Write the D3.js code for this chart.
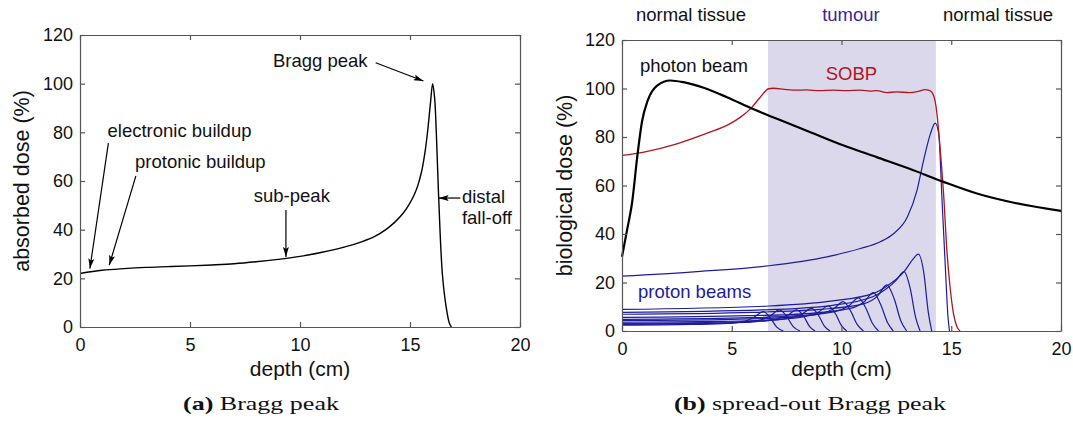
<!DOCTYPE html>
<html>
<head>
<meta charset="utf-8">
<script src="https://cdn.jsdelivr.net/npm/d3@7"></script>
<style>
  body { margin: 0; background: #fff; }
  svg text { font-family: "Liberation Sans", Arial, Helvetica, sans-serif; }
</style>
</head>
<body>
<div id="chart"></div>
<script>
// ---- data (depth in cm, dose in %) ----
const xTicks = [0, 5, 10, 15, 20];
const yTicks = [0, 20, 40, 60, 80, 100, 120];

// (a) single proton Bragg curve
const braggCurve = [[0,22],[1,23.3],[2,24],[3,24.5],[4,24.8],[5,25.1],[6,25.5],[7,26],[8,26.8],[9,27.8],
  [10,29],[11,30.7],[12,32.8],[12.8,35],[13.4,37.2],[13.9,40],[14.3,43],[14.6,45.8],[14.9,49.5],[15.15,53.5],
  [15.35,58],[15.53,64],[15.7,73],[15.82,82],[15.93,92],[16.03,100],[16.12,94],[16.2,79],[16.3,54],
  [16.47,22],[16.64,8.4],[16.79,1.5],[16.88,0]];

// (b) photon beam depth dose
const photonBeam = [[0,30.6],[0.23,41.6],[0.46,53],[0.71,73],[0.91,86.3],[1.17,95],[1.6,101.2],
  [2.2,103.3],[2.8,102.6],[3.72,100.3],[4.78,96.4],[6.0,91.4],[7.06,87.5],[8.58,82],[10.1,76.5],
  [11.6,71.7],[13.1,66.9],[14.65,61.5],[16.17,56.7],[17.7,53.2],[20,49.5]];

// (b) spread-out Bragg peak (sum of the proton beams)
const sobp = [[0,72.4],[1,73.8],[2.5,77.2],[4,82],[4.78,84.8],[5.4,88.2],[5.85,91.6],[6.3,96.4],
  [6.68,99.9],[6.9,100.1],[7.4,99.6],[7.8,99.3],[8.4,99.4],[9.0,99.1],[9.6,99.3],[10.2,99.1],
  [10.86,99.3],[11.3,98.9],[11.6,99.1],[12.07,98.3],[12.5,98.6],[13.1,98.3],[13.5,98.8],[13.8,99.5],
  [14.0,99.2],[14.15,98],[14.3,93],[14.4,85],[14.5,74.5],[14.65,56.7],[14.8,33.3],[14.96,16.9],
  [15.1,7.3],[15.25,2],[15.4,0]];

// (b) individual weighted proton beams
const protonBeams = [
  [[0,2.4],[3.2,2.7],[4.8,3.1],[5.5,3.8],[6.0,5.6],[6.44,8.0],[6.75,5.5],[7.05,1.6],[7.35,0]],
  [[0,2.7],[3.6,3.0],[5.4,3.5],[6.2,4.3],[6.75,6.2],[7.17,8.7],[7.5,6.0],[7.8,1.8],[8.11,0]],
  [[0,2.9],[4,3.2],[6,3.8],[7,4.8],[7.55,6.5],[7.96,8.7],[8.28,6.0],[8.55,1.8],[8.79,0]],
  [[0,3.2],[4.3,3.6],[6.5,4.2],[7.6,5.3],[8.2,7.0],[8.64,9.3],[8.95,6.5],[9.22,2.0],[9.48,0]],
  [[0,3.6],[4.7,4.0],[7,4.7],[8.3,5.9],[8.95,7.8],[9.4,10.3],[9.72,7.2],[10.0,2.2],[10.24,0]],
  [[0,4.3],[5,4.8],[7.5,5.6],[9,7.0],[9.65,9.2],[10.08,12.1],[10.4,8.5],[10.72,2.6],[11.0,0]],
  [[0,4.8],[5.4,5.4],[8,6.3],[9.7,8.0],[10.35,10.5],[10.77,13.7],[11.1,9.6],[11.42,3.0],[11.69,0]],
  [[0,5.6],[5.7,6.3],[8.6,7.3],[10.4,9.3],[11.05,12.2],[11.45,15.8],[11.78,11.0],[12.1,3.4],[12.36,0]],
  [[0,6.9],[6,7.7],[9,8.9],[11,11.2],[11.65,14.5],[12.06,19],[12.4,13.3],[12.7,4.2],[12.97,0]],
  [[0,7.7],[6.4,8.7],[9.6,10.6],[11.45,14.2],[12.06,17.5],[12.5,21],[12.85,24.5],[13.12,18],[13.38,5.5],[13.58,0]],
  [[0,8.9],[6.7,10.3],[9.5,12.3],[11.45,15.5],[12.06,18.5],[12.85,24.5],[13.25,29.5],[13.5,31.7],[13.75,24],[13.95,8],[14.11,0]],
  [[0,22.6],[3.27,24.4],[6.68,26.9],[9.34,30.6],[10.86,34],[11.77,36.8],[12.38,40.2],[13,47],[13.44,58],
   [13.74,70.4],[14.05,81.3],[14.27,85.7],[14.43,81.3],[14.58,53.9],[14.73,26.5],[14.85,6],[14.92,0]]
];

const tumourRange = [6.65, 14.3];

// annotations, in data units: [text, x, y]
const notesA = [["Bragg peak", 8.77, 106.9], ["electronic buildup", 1.25, 77.9], ["protonic buildup", 2.5, 65.4],
  ["sub-peak", 7.9, 51.5], ["distal", 17.36, 50.8], ["fall-off", 17.36, 42.3]];
const arrowsA = [[13.44,108.6,15.61,101.1], [1.29,75.6,0.45,24.0], [2.54,62.1,1.33,25.4],
  [9.36,48.1,9.36,28.8], [17.29,53.0,16.3,53.0]];

const W = 1073, H = 421;
const svg = d3.select("#chart").append("svg")
    .attr("width", W).attr("height", H)
    .style("background", "#fff");

svg.append("defs").append("marker")
    .attr("id", "arrow")
    .attr("markerUnits", "userSpaceOnUse")
    .attr("markerWidth", 10).attr("markerHeight", 6)
    .attr("refX", 10).attr("refY", 3)
    .attr("orient", "auto")
  .append("path")
    .attr("d", "M0,0 L10,3 L0,6 L2,3 Z")
    .attr("fill", "#000");

// scales for the two panels
const xA = d3.scaleLinear().domain([0, 20]).range([80, 520]);
const yA = d3.scaleLinear().domain([0, 120]).range([327, 35]);
const xB = d3.scaleLinear().domain([0, 20]).range([622, 1061]);
const yB = d3.scaleLinear().domain([0, 120]).range([331, 40]);

const lineFor = (x, y) => d3.line().x(d => x(d[0])).y(d => y(d[1])).curve(d3.curveMonotoneX);

function drawAxes(x, y) {
  const [x0, x1] = x.range(), [yb, yt] = y.range();
  const g = svg.append("g");
  g.append("g").attr("transform", `translate(0,${yb})`)
    .call(d3.axisBottom(x).tickValues(xTicks).tickSize(-5).tickSizeOuter(0).tickPadding(11));
  g.append("g").attr("transform", `translate(0,${yt})`)
    .call(d3.axisTop(x).tickValues(xTicks).tickSize(-5).tickSizeOuter(0).tickFormat(""));
  g.append("g").attr("transform", `translate(${x0},0)`)
    .call(d3.axisLeft(y).tickValues(yTicks).tickSize(-5).tickSizeOuter(0).tickPadding(7));
  g.append("g").attr("transform", `translate(${x1},0)`)
    .call(d3.axisRight(y).tickValues(yTicks).tickSize(-5).tickSizeOuter(0).tickFormat(""));
  g.selectAll(".domain, .tick line").attr("stroke", "#555").attr("stroke-width", 1.2);
  g.selectAll(".tick text").attr("font-size", 18).attr("fill", "#111")
    .style("font-family", '"Liberation Sans", Arial, sans-serif');
}

// ---------- panel (a) ----------
svg.append("path").datum(braggCurve)
    .attr("d", d3.line().x(d => xA(d[0])).y(d => yA(d[1])).curve(d3.curveCatmullRom.alpha(0.5)))
    .attr("fill", "none").attr("stroke", "#000").attr("stroke-width", 1.4);

svg.selectAll(".noteA").data(notesA).enter().append("text")
    .attr("x", d => xA(d[1])).attr("y", d => yA(d[2]))
    .attr("font-size", 18.5).attr("fill", "#111")
    .text(d => d[0]);

svg.selectAll(".arrowA").data(arrowsA).enter().append("line")
    .attr("x1", d => xA(d[0])).attr("y1", d => yA(d[1]))
    .attr("x2", d => xA(d[2])).attr("y2", d => yA(d[3]))
    .attr("stroke", "#000").attr("stroke-width", 1.2)
    .attr("marker-end", "url(#arrow)");

drawAxes(xA, yA);

svg.append("text")
    .attr("transform", `translate(29,${(yA(0) + yA(120)) / 2}) rotate(-90)`)
    .attr("text-anchor", "middle").attr("font-size", 21.5).attr("fill", "#111")
    .text("absorbed dose (%)");
svg.append("text")
    .attr("x", (xA(0) + xA(20)) / 2).attr("y", 376)
    .attr("text-anchor", "middle").attr("font-size", 21).attr("fill", "#111")
    .text("depth (cm)");

// ---------- panel (b) ----------
svg.append("rect")
    .attr("x", xB(tumourRange[0])).attr("y", yB(120))
    .attr("width", xB(tumourRange[1]) - xB(tumourRange[0]))
    .attr("height", yB(0) - yB(120))
    .attr("fill", "#dcd8ec");

svg.selectAll(".beam").data(protonBeams).enter().append("path")
    .attr("d", lineFor(xB, yB))
    .attr("fill", "none").attr("stroke", "#1c1c9c").attr("stroke-width", 1.2);

svg.append("path").datum(sobp)
    .attr("d", lineFor(xB, yB))
    .attr("fill", "none").attr("stroke", "#b2141e").attr("stroke-width", 1.3);

svg.append("path").datum(photonBeam)
    .attr("d", lineFor(xB, yB))
    .attr("fill", "none").attr("stroke", "#000").attr("stroke-width", 2.2);

drawAxes(xB, yB);

const notesB = [["normal tissue", 3.14, 128, "#111", "middle"], ["tumour", 10.43, 128, "#3d1f9e", "middle"],
  ["normal tissue", 17.13, 128, "#111", "middle"], ["photon beam", 0.82, 106.6, "#111", "start"],
  ["SOBP", 9.28, 103.3, "#b2141e", "start"], ["proton beams", 0.73, 13.8, "#1c1c9c", "start"]];
svg.selectAll(".noteB").data(notesB).enter().append("text")
    .attr("x", d => xB(d[1])).attr("y", d => yB(d[2]))
    .attr("text-anchor", d => d[4])
    .attr("font-size", 18.5).attr("fill", d => d[3])
    .text(d => d[0]);

svg.append("text")
    .attr("transform", `translate(572,${(yB(0) + yB(120)) / 2}) rotate(-90)`)
    .attr("text-anchor", "middle").attr("font-size", 21.5).attr("fill", "#111")
    .text("biological dose (%)");
svg.append("text")
    .attr("x", (xB(0) + xB(20)) / 2).attr("y", 376)
    .attr("text-anchor", "middle").attr("font-size", 21).attr("fill", "#111")
    .text("depth (cm)");

// ---------- captions ----------
const captions = [["(a)", " Bragg peak", 261, 156], ["(b)", " spread-out Bragg peak", 810, 272]];
captions.forEach(c => {
  const t = svg.append("text")
      .attr("x", c[2] - c[3] / 2).attr("y", 410)
      .attr("font-size", 19).attr("fill", "#111")
      .attr("textLength", c[3]).attr("lengthAdjust", "spacingAndGlyphs")
      .style("font-family", '"Liberation Serif", "DejaVu Serif", serif');
  t.append("tspan").attr("font-weight", "bold").text(c[0]);
  t.append("tspan").text(c[1]);
});
</script>
</body>
</html>
